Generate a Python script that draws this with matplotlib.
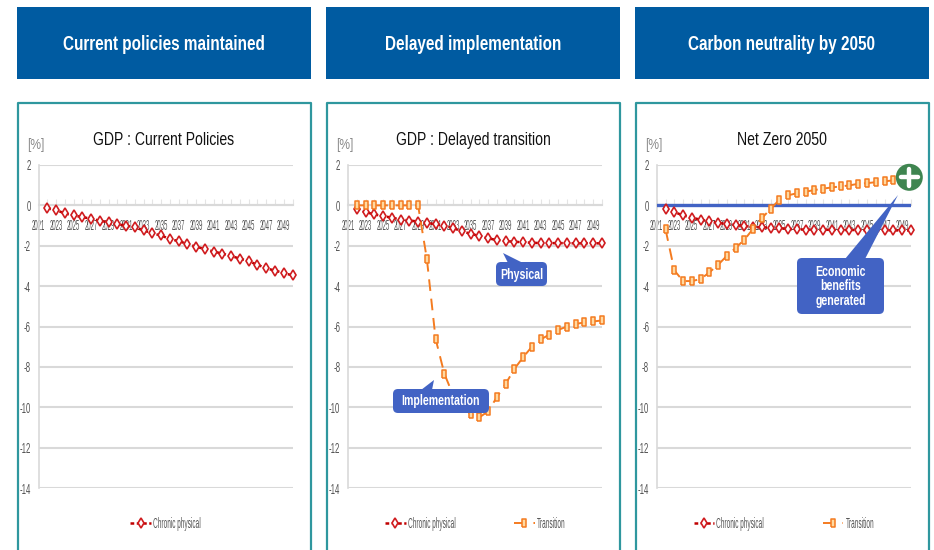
import matplotlib
matplotlib.use("Agg")
import matplotlib.pyplot as plt
from matplotlib import font_manager
from matplotlib.patches import Rectangle, FancyBboxPatch, Polygon, Circle
from fontTools.ttLib import TTFont

plt.rcParams["axes.unicode_minus"] = False

# data
years = list(range(2022, 2051))
tick_years = list(range(2021, 2050, 2))
y_ticks = [2, 0, -2, -4, -6, -8, -10, -12, -14]

cp_physical = [-0.15, -0.23, -0.40, -0.50, -0.58, -0.66, -0.76, -0.84, -0.94, -1.00,
               -1.09, -1.24, -1.39, -1.49, -1.67, -1.77, -1.91, -2.05, -2.16, -2.29,
               -2.39, -2.51, -2.64, -2.77, -2.94, -3.12, -3.23, -3.35, -3.47]
dt_physical = [-0.17, -0.33, -0.45, -0.53, -0.61, -0.70, -0.75, -0.80, -0.86, -0.94,
               -1.00, -1.12, -1.29, -1.40, -1.52, -1.63, -1.72, -1.77, -1.80, -1.83,
               -1.85, -1.87, -1.87, -1.87, -1.87, -1.88, -1.88, -1.88, -1.88]
dt_transition = [0, 0, 0, 0, 0, 0, 0, 0, -2.64, -6.61,
                 -8.34, -9.40, -9.90, -10.35, -10.50, -10.20, -9.50, -8.84, -8.10, -7.52,
                 -7.00, -6.64, -6.40, -6.17, -6.00, -5.87, -5.80, -5.75, -5.70]
nz_physical = [-0.18, -0.33, -0.50, -0.61, -0.71, -0.79, -0.87, -0.92, -0.97, -1.02,
               -1.07, -1.09, -1.10, -1.12, -1.17, -1.19, -1.20, -1.20, -1.21, -1.21,
               -1.22, -1.22, -1.22, -1.23, -1.23, -1.23, -1.24, -1.24, -1.24]
nz_transition = [-1.19, -3.22, -3.75, -3.75, -3.65, -3.32, -2.94, -2.50, -2.11, -1.70,
                 -1.16, -0.63, -0.17, 0.28, 0.50, 0.60, 0.68, 0.76, 0.83, 0.89,
                 0.94, 0.99, 1.07, 1.10, 1.15, 1.19, 1.24, 1.28, 1.32]

headers = ["Current policies maintained", "Delayed implementation", "Carbon neutrality by 2050"]
titles = ["GDP : Current Policies", "GDP : Delayed transition", "Net Zero 2050"]

W, H = 934, 550
BLUE = "#005BA1"
TEAL = "#2F979E"
CALLOUT = "#4263C4"
GREY = "#555555"
GRID = "#D9D9D9"
RED = "#C00000"
ORANGE = "#F47B20"
BAR_MARK = [(-0.52, -1), (0.52, -1), (0.52, 1), (-0.52, 1), (-0.52, -1)]


def squeezed_font(family, sx, weight="normal"):
    # no condensed face is installed, so squeeze Liberation Sans sideways
    src = font_manager.findfont(font_manager.FontProperties(family="Liberation Sans", weight=weight))
    ft = TTFont(src)
    glyf = ft["glyf"]
    hmtx = ft["hmtx"]
    for name in ft.getGlyphOrder():
        g = glyf[name]
        if g.isComposite():
            for comp in g.components:
                comp.x = round(comp.x * sx)
        elif g.numberOfContours > 0:
            g.coordinates.scale((sx, 1))
            g.coordinates.toInt()
        adv, lsb = hmtx[name]
        hmtx[name] = (round(adv * sx), round(lsb * sx))
    for tag in ["kern", "hdmx", "LTSH", "VDMX"]:
        if tag in ft:
            del ft[tag]
    for rec in ft["name"].names:
        if rec.nameID in (1, 4, 6, 16):
            rec.string = family
    path = family + ".ttf"
    ft.save(path)
    font_manager.fontManager.addfont(path)


squeezed_font("SqueezeHead", 0.76, "bold")
squeezed_font("SqueezeTitle", 0.79)
squeezed_font("SqueezeTick", 0.42)
squeezed_font("SqueezeLegend", 0.47)
squeezed_font("SqueezeYTick", 0.52)
plt.rcParams["font.family"] = ["SqueezeTick", "DejaVu Sans"]


def px_axes(x0, x1, y_top, y_bot):
    return fig.add_axes([x0 / W, 1 - y_bot / H, (x1 - x0) / W, (y_bot - y_top) / H])


fig = plt.figure(figsize=(W / 100, H / 100), dpi=100, facecolor="white")

# page furniture, pixel coordinates
bg = fig.add_axes([0, 0, 1, 1], zorder=0)
bg.set_xlim(0, W)
bg.set_ylim(H, 0)
bg.axis("off")

panels = [(17, 311), (326, 620), (635, 929)]
for (left, right), head in zip(panels, headers):
    bg.add_patch(Rectangle((left, 7), right - left, 72, color=BLUE, lw=0))
    bg.text((left + right) / 2, 44, head, color="white", fontsize=14.5, family="SqueezeHead",
            ha="center", va="center")
    bg.plot([left + 0.5, left + 0.5, right - 0.5, right - 0.5], [560, 102.5, 102.5, 560],
            color=TEAL, lw=1.6)

chart_x = [(38.5, 292.5), (348, 602), (656.8, 910.8)]
series = [
    (cp_physical, None),
    (dt_physical, dt_transition),
    (nz_physical, nz_transition),
]

for i, ((x0, x1), title, (phys, trans)) in enumerate(zip(chart_x, titles, series)):
    ax = px_axes(x0, x1, 165, 488)
    ax.set_zorder(1)
    ax.patch.set_alpha(0)
    ax.set_xlim(2021, 2050)
    ax.set_ylim(-14, 2)
    for name in ["top", "right"]:
        ax.spines[name].set_visible(False)
    ax.spines["left"].set_color(GRID)
    ax.spines["left"].set_linewidth(1.2)
    ax.spines["bottom"].set_position(("data", 0))
    ax.spines["bottom"].set_color(GRID)
    ax.spines["bottom"].set_linewidth(1.5)
    ax.set_yticks(y_ticks)
    ax.yaxis.grid(True, color=GRID, lw=1.5)
    ax.set_axisbelow(True)
    ax.set_xticks(tick_years)
    ax.set_xticks(years, minor=True)
    ax.set_xticklabels([str(y) for y in tick_years])
    ax.tick_params(axis="x", which="both", direction="in", length=4, width=0.8, color="#E4E4E4",
                   labelsize=10.5, labelcolor=GREY, pad=10)
    ax.tick_params(axis="y", length=0, labelsize=11, labelcolor=GREY, pad=5.5)
    for lab in ax.get_yticklabels():
        lab.set_family("SqueezeYTick")

    if i == 2:
        ax.axhline(0, color=CALLOUT, lw=2.4, zorder=2.6)
    ax.plot(years, phys, color=RED, lw=1.8, ls=(0, (1.5, 1)), marker="d", ms=5.4, mfc="white",
            mec="#D01C1F", mew=1.2, clip_on=False, label="Chronic physical", zorder=3)
    if trans is not None:
        ax.plot(years, trans, color=ORANGE, lw=1.4, ls=(0, (6, 4)), marker=BAR_MARK, ms=5.8,
                mfc="#FFD9A0", mec=ORANGE, mew=1.1, clip_on=False, label="Transition", zorder=4)

    ax.legend(loc="center", bbox_to_anchor=(0.5, -0.11), ncol=2, frameon=False,
              prop={"family": "SqueezeLegend", "size": 10}, labelcolor=GREY,
              handlelength=1.5, handletextpad=0.15, columnspacing=4.2)
    ax.text(0.494, 1.075, title, transform=ax.transAxes, ha="center", va="center", fontsize=12.8,
            family="SqueezeTitle", color="#111111")
    ax.text(-0.045, 1.062, "[%]", transform=ax.transAxes, ha="left", va="center", fontsize=11,
            family="SqueezeTitle", color="#8A8A8A")

# callouts on top of the charts
top = fig.add_axes([0, 0, 1, 1], zorder=5)
top.set_xlim(0, W)
top.set_ylim(H, 0)
top.axis("off")
top.patch.set_alpha(0)

callouts = [
    ("Physical", (496, 262, 51, 24), [(503, 253), (508, 263), (523, 263)]),
    ("Implementation", (393, 389, 96, 24), [(434, 380), (421, 390), (432, 390)]),
    ("Economic\nbenefits\ngenerated", (797, 258, 87, 56), [(898, 195), (845, 259), (865, 259)]),
]
for label, (bx, by, bw, bh), tail in callouts:
    top.add_patch(FancyBboxPatch((bx + 5, by + 5), bw - 10, bh - 10,
                                 boxstyle="round,pad=5,rounding_size=5", fc=CALLOUT, ec="none"))
    top.add_patch(Polygon(tail, closed=True, fc=CALLOUT, ec="none"))
    top.text(bx + bw / 2, by + bh / 2 + 0.5, label, color="white", fontsize=10, family="SqueezeHead",
             ha="center", va="center", linespacing=1.0)

top.add_patch(Circle((909.3, 177.3), 13.5, fc="#3F8550", ec="none"))
top.plot([901, 917.5], [177.3, 177.3], color="white", lw=3.2, solid_capstyle="round")
top.plot([909.3, 909.3], [169, 185.5], color="white", lw=3.2, solid_capstyle="round")

fig.savefig("out.png", dpi=100)
